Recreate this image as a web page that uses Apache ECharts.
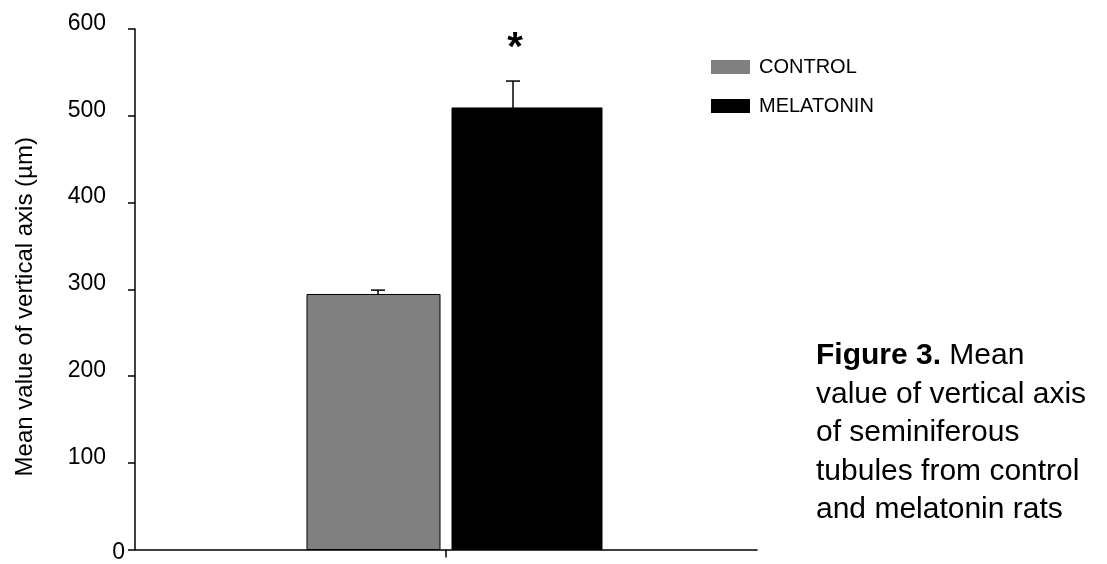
<!DOCTYPE html>
<html>
<head>
<meta charset="utf-8">
<script src="https://cdn.jsdelivr.net/npm/echarts@6/dist/echarts.min.js"></script>
<style>html,body{margin:0;padding:0;background:#fff}#c{width:1107px;height:564px}</style>
</head>
<body>
<div id="c"></div>
<script>
const categories = [''];
const groups = ['CONTROL', 'MELATONIN'];
const means = [294, 509];
const errors = [5, 31];
const marks = ['', '*'];
const yTicks = [0, 100, 200, 300, 400, 500, 600];
const colors = ['#808080', '#000000'];

// layout (pixel offsets from category centre)
const barSpan = [[-139, -6], [6, 156]];
const errOffset = [-68, 67];

const chart = echarts.init(document.getElementById('c'));
const F = 'Arial, "Liberation Sans", Helvetica, sans-serif';

function makeSeries(i) {
  return {
    name: groups[i],
    type: 'custom',
    itemStyle: { color: colors[i] },
    data: [[0, means[i], errors[i]]],
    renderItem: function (params, api) {
      const top = api.coord([api.value(0), api.value(1)]);
      const base = api.coord([api.value(0), 0]);
      const errTop = api.coord([api.value(0), api.value(1) + api.value(2)]);
      const cx = top[0];
      const ex = cx + errOffset[i];
      const children = [
        {
          type: 'rect',
          shape: { x: cx + barSpan[i][0], y: top[1], width: barSpan[i][1] - barSpan[i][0], height: base[1] - top[1] },
          style: { fill: colors[i], stroke: '#000', lineWidth: 1 }
        },
        {
          type: 'line',
          shape: { x1: ex, y1: top[1], x2: ex, y2: errTop[1] },
          style: { stroke: '#000', lineWidth: 1.5 }
        },
        {
          type: 'line',
          shape: { x1: ex - 7, y1: errTop[1], x2: ex + 7, y2: errTop[1] },
          style: { stroke: '#000', lineWidth: 1.5 }
        }
      ];
      if (marks[i]) {
        children.push({
          type: 'text',
          style: {
            text: marks[i], x: ex + 2, y: errTop[1] - 32,
            fill: '#000', font: 'bold 40px ' + F, align: 'center', verticalAlign: 'middle'
          }
        });
      }
      return { type: 'group', children: children };
    }
  };
}

chart.setOption({
  animation: false,
  backgroundColor: '#fff',
  grid: { left: 135, right: 350, top: 29, bottom: 12, containLabel: false },
  legend: {
    orient: 'vertical', left: 711, top: 57, padding: 0,
    itemWidth: 39, itemHeight: 14, itemGap: 19,
    icon: 'rect',
    data: groups,
    textStyle: { fontFamily: F, fontSize: 20, lineHeight: 20, color: '#000', padding: [0, 0, 0, 4] }
  },
  xAxis: {
    type: 'category',
    data: categories,
    axisLine: { lineStyle: { color: '#000', width: 1.5 } },
    axisTick: { show: true, alignWithLabel: true, length: 8, lineStyle: { color: '#000', width: 1.5 } },
    axisLabel: { show: false },
    splitLine: { show: false }
  },
  yAxis: {
    type: 'value', min: yTicks[0], max: yTicks[yTicks.length - 1], interval: 100,
    name: 'Mean value of vertical axis (µm)',
    nameLocation: 'middle', nameGap: 98, nameRotate: 90,
    nameTextStyle: { fontFamily: F, fontSize: 24, color: '#000', padding: [0, 35, 0, 0] },
    axisLine: { show: true, lineStyle: { color: '#000', width: 1.5 } },
    axisTick: { show: true, length: 7, lineStyle: { color: '#000', width: 1.5 } },
    splitLine: { show: false },
    axisLabel: {
      margin: 10,
      formatter: function (v) { return v === 0 ? '{z|0}' : '{n|' + v + '}'; },
      rich: {
        n: { fontFamily: F, fontSize: 23, color: '#000', padding: [0, 19, 11, 0] },
        z: { fontFamily: F, fontSize: 23, color: '#000', padding: [6, 0, 0, 0] }
      }
    }
  },
  graphic: [{
    type: 'text', left: 816, top: 337,
    style: {
      text: '{b|Figure 3.} Mean\nvalue of vertical axis\nof seminiferous\ntubules from control\nand melatonin rats',
      font: '30px ' + F, fill: '#000', lineHeight: 38.4,
      rich: { b: { font: 'bold 30px ' + F, fill: '#000', lineHeight: 38.4 } }
    }
  }],
  series: [makeSeries(0), makeSeries(1)]
});
</script>
</body>
</html>
